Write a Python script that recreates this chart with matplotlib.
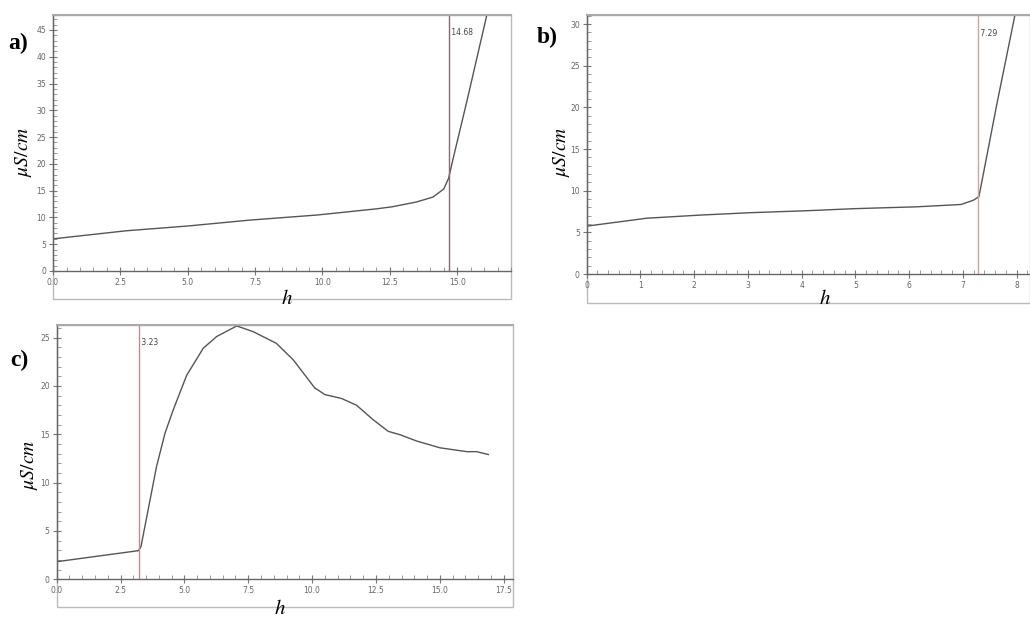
import numpy as np
import matplotlib
matplotlib.use("Agg")
import matplotlib.pyplot as plt
from matplotlib.ticker import MultipleLocator, FormatStrFormatter
from matplotlib.patches import Rectangle

plt.rcParams['mathtext.fontset'] = 'stix'

# panel a
h_a = [0.0, 2.7, 5.0, 7.3, 9.8, 12.0, 12.6, 13.5, 14.1, 14.5, 14.68, 14.85, 15.35, 16.1, 16.5]
s_a = [6.0, 7.5, 8.4, 9.5, 10.45, 11.6, 12.0, 12.9, 13.8, 15.3, 17.3, 21.0, 31.5, 47.8, 56.0]
mark_a = 14.68

# panel b
h_b = [0.0, 1.12, 2.1, 3.0, 4.1, 5.0, 6.15, 6.97, 7.2, 7.3, 7.63, 7.97, 8.2]
s_b = [5.75, 6.7, 7.07, 7.35, 7.6, 7.85, 8.07, 8.35, 8.87, 9.3, 20.3, 31.1, 38.0]
mark_b = 7.29

# panel c
h_c = [0.0, 3.2, 3.3, 3.91, 4.24, 4.56, 5.09, 5.74, 6.26, 7.05, 7.7, 8.6, 9.26, 10.1,
       10.5, 11.15, 11.74, 12.39, 12.98, 13.44, 14.09, 15.0, 16.05, 16.44, 16.9]
s_c = [1.82, 2.96, 3.37, 11.66, 15.1, 17.5, 21.1, 23.9, 25.1, 26.2, 25.6, 24.4, 22.7, 19.8,
       19.1, 18.7, 18.0, 16.5, 15.3, 14.95, 14.3, 13.6, 13.2, 13.2, 12.9]
mark_c = 3.23


def style(ax, xmax, ymax, xmaj, xmin, xfmt, frame_bottom):
    ax.set_xlim(0, xmax)
    ax.set_ylim(0, ymax)
    ax.xaxis.set_major_locator(MultipleLocator(xmaj))
    ax.xaxis.set_minor_locator(MultipleLocator(xmin))
    ax.xaxis.set_major_formatter(FormatStrFormatter(xfmt))
    ax.yaxis.set_major_locator(MultipleLocator(5))
    ax.yaxis.set_minor_locator(MultipleLocator(1))
    ax.tick_params(axis='both', which='major', direction='inout', length=6,
                   width=0.8, color='#777777', labelsize=5.5, labelcolor='#666666', pad=2)
    ax.tick_params(axis='both', which='minor', direction='in', length=3,
                   width=0.6, color='#888888')
    for side in ['left', 'bottom']:
        ax.spines[side].set_color('#666666')
        ax.spines[side].set_linewidth(1.0)
    ax.spines['top'].set_color('#aaaaaa')
    ax.spines['top'].set_linewidth(1.5)
    ax.spines['right'].set_visible(False)
    frame = Rectangle((0, frame_bottom), 1, 1 - frame_bottom, transform=ax.transAxes,
                      fill=False, edgecolor='#bbbbbb', linewidth=1.0, clip_on=False)
    ax.add_patch(frame)


fig = plt.figure(figsize=(10.3, 6.17), dpi=100)

ax_a = fig.add_axes([0.0515, 0.5608, 0.4447, 0.4149])
ax_b = fig.add_axes([0.5696, 0.5559, 0.4304, 0.4198])
ax_c = fig.add_axes([0.0550, 0.0611, 0.4430, 0.4122])

style(ax_a, 17.0, 47.8, 2.5, 0.5, '%.1f', -0.11)
style(ax_b, 8.25, 31.1, 1, 0.2, '%d', -0.11)
style(ax_c, 17.86, 26.3, 2.5, 0.5, '%.1f', -0.11)

ax_a.plot(h_a, s_a, color='#555555', linewidth=1.0)
ax_b.plot(h_b, s_b, color='#555555', linewidth=1.0)
ax_c.plot(h_c, s_c, color='#555555', linewidth=1.0)

for ax, m, col in [(ax_a, mark_a, '#8a6a6a'), (ax_b, mark_b, '#d4a0a8'), (ax_c, mark_c, '#c48a90')]:
    ax.axvline(m, color=col, linewidth=1.0)
    ax.text(m, 0.93, ' %.2f' % m, transform=ax.get_xaxis_transform(),
            fontsize=5.5, color='#444444', ha='left', va='center')

# panel letters
for x, y, s in [(8, 43, 'a)'), (537, 37, 'b)'), (10, 360, 'c)')]:
    fig.text(x / 1030, 1 - y / 617, s, fontsize=17, fontweight='bold',
             family='Liberation Serif', ha='left', va='center')

# axis labels
for x, y in [(24, 152), (561, 152), (30, 465)]:
    fig.text(x / 1030, 1 - y / 617, r'$\mu S/cm$', fontsize=14, rotation=90,
             ha='center', va='center')
for x, y in [(287, 298), (825, 298), (280, 608)]:
    fig.text(x / 1030, 1 - y / 617, r'$h$', fontsize=15, ha='center', va='center')

fig.savefig('out.png', dpi=100)
